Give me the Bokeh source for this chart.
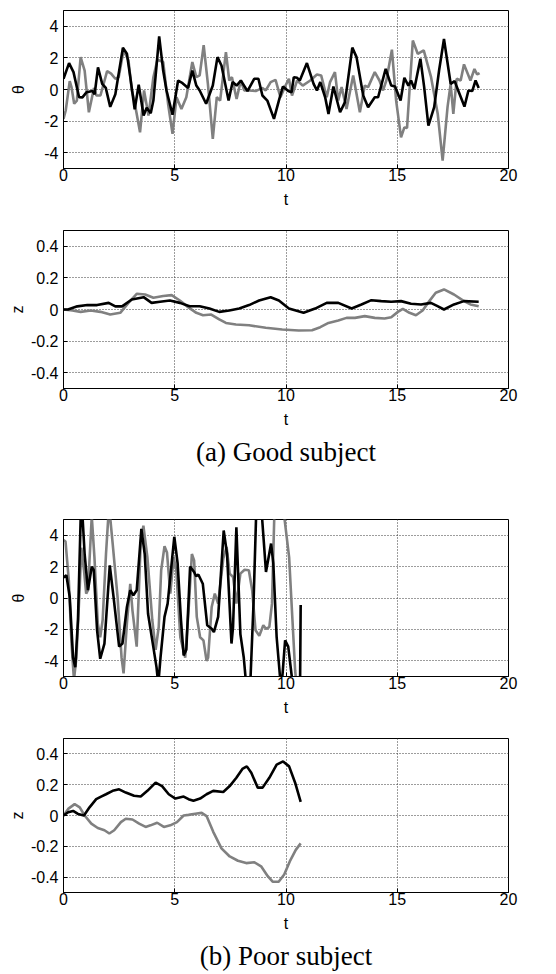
from bokeh.plotting import figure
from bokeh.layouts import column
from bokeh.models import Range1d, FixedTicker, Title
from bokeh.embed import file_html
from bokeh.resources import INLINE

# ---------------- data ----------------
# (a) Good subject, theta
good_theta_black_t = [0, 0.25, 0.45, 0.7, 0.85, 1.04, 1.3, 1.4, 1.55, 1.74, 1.9, 2.1, 2.33, 2.67, 2.85, 3.0, 3.2, 3.38,
                      3.6, 3.74, 3.92, 4.04, 4.3, 4.48, 4.63, 4.9, 5.15, 5.35, 5.6, 5.79, 5.97, 6.12, 6.41, 6.71, 6.92,
                      7.1, 7.42, 7.6, 7.78, 7.97, 8.27, 8.57, 8.76, 8.94, 9.16, 9.46, 9.68, 9.86, 10.1, 10.25, 10.35,
                      10.5, 10.62, 10.94, 11.24, 11.39, 11.54, 11.76, 11.91, 12.13, 12.43, 12.65, 12.98, 13.17, 13.47,
                      13.69, 13.99, 14.14, 14.48, 14.73, 14.9, 15.15, 15.32, 15.5, 15.62, 15.77, 16.04, 16.21, 16.4,
                      16.66, 16.88, 17.1, 17.4, 17.58, 17.77, 18.02, 18.2, 18.37, 18.52, 18.66]
good_theta_black = [0.68, 1.67, 1.1, -0.49, -0.5, -0.17, -0.1, -0.3, 1.4, 0.36, 0.1, -1.1, -0.3, 2.65, 2.26, 0.8, -1.25,
                    0.3, -1.65, -1.15, -1.5, -0.7, 3.36, 1.2, -0.06, -1.6, 0.57, 0.4, 0.1, 1.2, 0.25, -0.06, -0.9, 0.25,
                    2.05, 1.52, -0.7, 0.47, 0.25, 0.57, -0.1, 0.68, 0.68, -0.38, -0.7, -1.86, -0.7, 0.19, -0.1, -0.17,
                    0.78, 0.74, 0.57, 1.67, 0.36, -0.06, 0.47, -0.49, -1.55, 0.19, -1.44, -0.8, 2.65, 2.05, -0.38,
                    -1.12, -0.49, -0.49, 1.3, 0.25, 0.19, -0.7, 0.74, 0.25, 0.57, 0.04, 1.95, 0.15, -2.29, -1.12, 1.2,
                    3.2, 0.36, 0.53, -0.17, -1.08, -0.06, -0.1, 0.57, 0.1]
good_theta_grey_t = [0, 0.1, 0.28, 0.36, 0.48, 0.6, 0.77, 0.95, 1.14, 1.37, 1.48, 1.66, 1.96, 2.14, 2.33, 2.48, 2.7,
                     2.92, 3.07, 3.18, 3.44, 3.62, 3.82, 4.04, 4.22, 4.48, 4.7, 4.9, 5.08, 5.3, 5.52, 5.79, 5.97, 6.12,
                     6.3, 6.49, 6.71, 6.89, 7.04, 7.3, 7.45, 7.57, 7.78, 7.97, 8.12, 8.34, 8.64, 8.94, 9.09, 9.31, 9.53,
                     9.75, 9.98, 10.13, 10.27, 10.5, 10.75, 11.09, 11.39, 11.58, 11.83, 11.98, 12.2, 12.35, 12.5, 12.72,
                     13.02, 13.32, 13.54, 13.69, 13.99, 14.2, 14.36, 14.51, 14.76, 14.95, 15.17, 15.32, 15.44, 15.7,
                     15.92, 16.19, 16.52, 16.82, 17.04, 17.26, 17.4, 17.52, 17.67, 17.85, 18.0, 18.29, 18.47, 18.59,
                     18.7]
good_theta_grey = [-1.86, -1.33, 0.53, 0.15, -0.9, -0.7, 2.05, 1.2, -1.44, 0.1, -0.38, -0.38, 1.16, 1.0, 0.68, 0.78,
                   2.48, 1.84, -0.06, -0.7, -2.71, -0.06, -1.65, 0.78, 1.88, 1.74, -0.9, -2.81, -0.49, -1.23, -0.49,
                   1.74, 0.78, 0.89, 2.8, 0.36, -3.13, -0.49, -0.7, 2.37, 0.57, 0.78, -0.6, 0.57, -0.06, -0.06, -0.1,
                   0.1, -0.06, 0.47, 0.61, -0.49, 0.25, 0.68, -0.38, 0.57, 0.25, 0.57, 0.95, 0.89, -0.49, 0.47, 1.1,
                   -0.7, 0.15, -1.23, 0.89, -1.44, 0.25, 0.15, 1.1, 0.57, -0.06, 0.57, 2.52, -0.7, -3.03, -2.4, -2.43,
                   3.1, 2.26, 2.48, 0.78, -1.55, -4.5, -1.12, 0.36, -1.55, 0.68, 0.57, 1.59, 0.57, 1.3, 0.95, 1.04]

# (a) Good subject, z
good_z_black_t = [0, 0.2, 0.62, 1.07, 1.51, 2.03, 2.33, 2.63, 3.07, 3.6, 3.96, 4.34, 4.78, 5.23, 5.67, 6.12, 6.56, 7.0,
                  7.45, 7.9, 8.34, 8.79, 9.31, 9.68, 10.13, 10.79, 11.31, 11.83, 12.35, 12.95, 13.39, 13.84, 14.28,
                  14.73, 15.17, 15.62, 16.07, 16.51, 16.81, 17.1, 17.55, 18.0, 18.66]
good_z_black = [0, 0, 0.02, 0.028, 0.028, 0.042, 0.02, 0.02, 0.063, 0.078, 0.042, 0.049, 0.057, 0.042, 0.021, 0.021,
                0.006, -0.015, -0.006, 0.006, 0.028, 0.057, 0.078, 0.057, 0.006, -0.021, 0.006, 0.042, 0.042, 0.006,
                0.032, 0.059, 0.053, 0.049, 0.053, 0.036, 0.032, 0.042, 0.021, 0.0, 0.032, 0.053, 0.049]
good_z_grey_t = [0, 0.4, 0.77, 1.22, 1.66, 2.1, 2.55, 2.92, 3.3, 3.67, 4.04, 4.48, 4.86, 5.23, 5.6, 5.97, 6.27, 6.64,
                 7.0, 7.3, 7.75, 8.34, 9.09, 9.83, 10.57, 11.17, 11.54, 11.91, 12.35, 12.72, 13.1, 13.54, 13.99, 14.43,
                 14.73, 15.03, 15.25, 15.55, 15.84, 16.14, 16.44, 16.73, 17.1, 17.55, 18.0, 18.29, 18.66]
good_z_grey = [0, -0.006, -0.015, -0.006, -0.015, -0.032, -0.021, 0.042, 0.1, 0.095, 0.074, 0.085, 0.091, 0.057, 0.015,
               -0.021, -0.036, -0.032, -0.063, -0.085, -0.095, -0.1, -0.116, -0.127, -0.133, -0.131, -0.112, -0.085,
               -0.07, -0.053, -0.053, -0.042, -0.053, -0.057, -0.049, -0.015, 0.004, -0.021, -0.036, -0.006, 0.053,
               0.106, 0.127, 0.095, 0.053, 0.032, 0.021]

# (b) Poor subject, theta
poor_theta_black_t = [0, 0.13, 0.28, 0.43, 0.53, 0.65, 0.77, 0.85, 0.95, 1.1, 1.27, 1.36, 1.51, 1.65, 1.84, 2.08, 2.25,
                      2.5, 2.65, 2.85, 3.0, 3.14, 3.29, 3.5, 3.65, 3.8, 3.99, 4.18, 4.26, 4.36, 4.54, 4.68, 4.98, 5.13,
                      5.28, 5.4, 5.52, 5.69, 5.87, 5.96, 6.06, 6.26, 6.46, 6.66, 6.76, 6.95, 7.2, 7.35, 7.55, 7.62,
                      7.77, 7.95, 8.1, 8.21, 8.36, 8.54, 8.66, 8.78, 8.93, 9.1, 9.33, 9.43, 9.58, 9.73, 9.81, 9.96,
                      10.1, 10.26, 10.45, 10.63, 10.66]
poor_theta_black = [1.3, 1.45, 0.06, -3.8, -4.4, -1.4, 5.0, 5.3, 2.8, 0.5, 2.0, 1.77, -2.06, -3.87, -2.9, 2.08, 0.06,
                    -3.1, -2.9, -0.57, 0.49, 0.17, 0.49, 4.4, 2.8, -1.0, -2.7, -4.4, -5.5, -3.8, -1.2, -0.36, 3.9, 2.2,
                    -1.4, -3.66, -3.3, 2.0, 1.66, 1.38, 1.5, 0.91, -1.74, -1.96, -2.17, -1.2, 4.3, 2.8, -2.9, -1.85,
                    4.5, -2.3, -3.77, -5.5, -6.7, -0.36, 5.4, 6.4, 5.0, 1.66, 3.47, 2.2, -2.5, -5.0, -5.5, -2.7, -3.1,
                    -5.0, -6.5, -6.0, -0.45]
poor_theta_grey_t = [0, 0.09, 0.24, 0.36, 0.47, 0.58, 0.73, 0.8, 0.92, 1.02, 1.1, 1.27, 1.39, 1.54, 1.65, 1.76, 1.91,
                     2.02, 2.1, 2.21, 2.43, 2.61, 2.7, 2.85, 3.0, 3.1, 3.29, 3.47, 3.59, 3.77, 3.99, 4.14, 4.28, 4.39,
                     4.54, 4.65, 4.8, 4.95, 5.07, 5.25, 5.47, 5.62, 5.77, 5.87, 5.99, 6.14, 6.29, 6.43, 6.5, 6.66, 6.8,
                     6.95, 7.18, 7.33, 7.47, 7.62, 7.77, 7.95, 8.14, 8.33, 8.48, 8.63, 8.8, 8.98, 9.1, 9.25, 9.37, 9.47,
                     9.62, 9.92, 10.14, 10.29, 10.41, 10.5]
poor_theta_grey = [3.7, 3.6, 1.1, -2.9, -5.2, -3.8, 0.7, 3.2, 1.77, 0.28, 0.5, 5.2, 2.6, -1.6, -2.5, -1.4, 2.8, 5.3,
                   5.1, 3.47, 0.06, -3.8, -4.8, -1.6, 0.9, -0.8, -3.1, 3.5, 4.6, 2.6, -1.4, -3.3, -1.85, 1.77, 3.3,
                   2.9, 0.28, 2.6, 1.77, -2.5, -3.8, -0.8, 2.8, 2.4, -1.2, -2.5, -2.7, -4.0, -3.8, -0.57, 0.28, -0.36,
                   2.5, 3.25, 1.55, 1.34, -0.36, 1.55, 1.8, 1.77, 0.49, -2.06, -2.4, -1.74, -1.96, -1.85, -0.36, 5.0,
                   6.0, 5.2, 2.6, -1.4, -4.6, -6.0]

# (b) Poor subject, z
poor_z_black_t = [0, 0.21, 0.43, 0.65, 0.92, 1.17, 1.47, 1.69, 1.91, 2.21, 2.5, 2.8, 3.17, 3.47, 3.77, 4.14, 4.43, 4.73,
                  5.03, 5.4, 5.62, 5.84, 6.14, 6.43, 6.73, 7.18, 7.47, 7.77, 8.04, 8.24, 8.44, 8.73, 8.95, 9.25, 9.58,
                  9.87, 10.14, 10.41, 10.66]
poor_z_black = [0, 0.021, 0.03, 0.01, 0.0, 0.053, 0.106, 0.123, 0.138, 0.16, 0.17, 0.149, 0.128, 0.123, 0.16, 0.213,
                0.191, 0.138, 0.11, 0.123, 0.106, 0.096, 0.11, 0.138, 0.16, 0.153, 0.191, 0.245, 0.302, 0.319, 0.277,
                0.181, 0.181, 0.245, 0.33, 0.351, 0.319, 0.213, 0.089]
poor_z_grey_t = [0, 0.21, 0.5, 0.73, 0.95, 1.25, 1.54, 1.84, 2.06, 2.28, 2.58, 2.8, 3.1, 3.4, 3.69, 3.91, 4.21, 4.51,
                 4.8, 5.1, 5.4, 5.62, 5.92, 6.21, 6.43, 6.73, 7.1, 7.47, 7.84, 8.21, 8.58, 8.88, 9.18, 9.4, 9.67, 9.92,
                 10.17, 10.44, 10.66]
poor_z_grey = [0, 0.043, 0.074, 0.053, 0, -0.053, -0.081, -0.096, -0.117, -0.096, -0.043, -0.021, -0.026, -0.053,
               -0.074, -0.064, -0.047, -0.074, -0.064, -0.043, 0, 0.004, 0.011, 0.017, -0.004, -0.106, -0.213, -0.266,
               -0.294, -0.309, -0.304, -0.33, -0.394, -0.43, -0.43, -0.383, -0.298, -0.223, -0.181]

x_ticks = [0, 5, 10, 15, 20]
theta_ticks = [-4, -2, 0, 2, 4]
theta_tick_labels = ["-4", "-2", "0", "2", "4"]
z_ticks = [-0.4, -0.2, 0, 0.2, 0.4]
z_tick_labels = ["-0.4", "-0.2", "0", "0.2", "0.4"]
captions = ["(a) Good subject", "(b) Poor subject"]

GREY = "#808080"
SANS = "Liberation Sans"


def make_panel(height, left, right, top, bottom, yr, yticks, ylabels, ylabel, label_standoff):
    p = figure(width=556, height=height, x_range=Range1d(0, 20), y_range=Range1d(*yr),
               output_backend="svg", toolbar_location=None,
               min_border_left=left, min_border_right=right,
               min_border_top=top, min_border_bottom=bottom)
    p.background_fill_color = "white"
    p.border_fill_color = "white"
    p.outline_line_color = "black"
    p.outline_line_width = 1
    p.outline_line_alpha = 1
    p.xaxis.ticker = FixedTicker(ticks=x_ticks)
    p.yaxis.ticker = FixedTicker(ticks=yticks)
    p.yaxis.major_label_overrides = {t: l for t, l in zip(yticks, ylabels)}
    p.xaxis.major_label_overrides = {t: str(t) for t in x_ticks}
    for ax in (p.xaxis, p.yaxis):
        ax.axis_line_color = "black"
        ax.major_tick_in = 4
        ax.major_tick_out = 0
        ax.minor_tick_line_color = None
        ax.major_tick_line_color = "black"
        ax.major_label_text_font = SANS
        ax.major_label_text_font_size = "16px"
        ax.major_label_text_color = "black"
        ax.axis_label_text_font = SANS
        ax.axis_label_text_font_size = "16px"
        ax.axis_label_text_font_style = "normal"
        ax.axis_label_text_color = "black"
    p.xaxis.major_label_standoff = 0
    p.yaxis.major_label_standoff = 5
    p.xaxis.axis_label = "t"
    p.xaxis.axis_label_standoff = 7
    p.yaxis.axis_label = ylabel
    p.yaxis.axis_label_standoff = label_standoff
    for g in (p.xgrid, p.ygrid):
        g.grid_line_color = "#3a3a3a"
        g.grid_line_dash = "1 2"
        g.grid_line_width = 1
        g.grid_line_alpha = 1
    return p


def add_caption(p, text):
    p.add_layout(Title(text=text, align="center", text_font="Liberation Serif", text_font_size="27px",
                       text_font_style="normal", text_color="black", standoff=8), "below")


p1 = make_panel(218, 63, 44, 10, 50, (-5, 5), theta_ticks, theta_tick_labels, "θ", 14)
p1.line(good_theta_grey_t, good_theta_grey, line_color=GREY, line_width=2.6)
p1.line(good_theta_black_t, good_theta_black, line_color="black", line_width=2.6)

p2 = make_panel(260, 63, 44, 12, 90, (-0.5, 0.5), z_ticks, z_tick_labels, "z", 2)
p2.line(good_z_grey_t, good_z_grey, line_color=GREY, line_width=2.6)
p2.line(good_z_black_t, good_z_black, line_color="black", line_width=2.6)
add_caption(p2, captions[0])

p3 = make_panel(248, 59, 48, 41, 50, (-5, 5), theta_ticks, theta_tick_labels, "θ", 14)
p3.line(poor_theta_grey_t, poor_theta_grey, line_color=GREY, line_width=2.6)
p3.line(poor_theta_black_t, poor_theta_black, line_color="black", line_width=2.6)

p4 = make_panel(248, 59, 48, 12, 78, (-0.5, 0.5), z_ticks, z_tick_labels, "z", 2)
p4.line(poor_z_grey_t, poor_z_grey, line_color=GREY, line_width=2.6)
p4.line(poor_z_black_t, poor_z_black, line_color="black", line_width=2.6)
add_caption(p4, captions[1])

layout = column(p1, p2, p3, p4, spacing=0)
open("out.html", "w").write(file_html(layout, INLINE))
